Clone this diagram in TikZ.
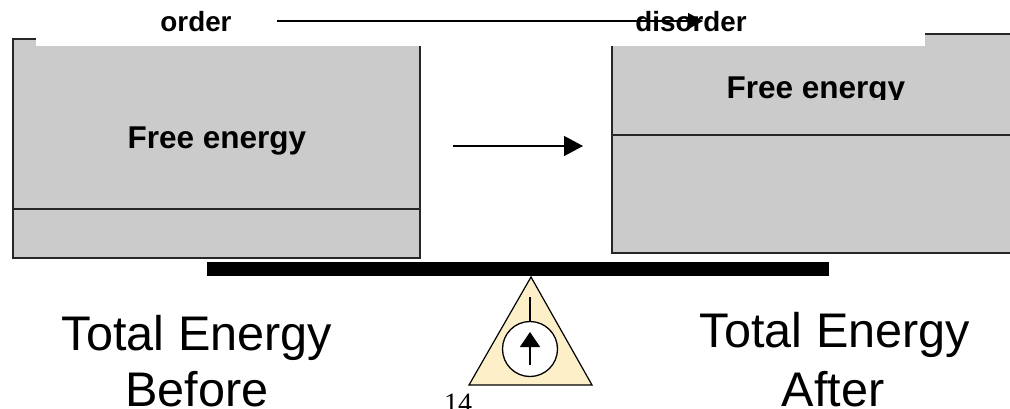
\documentclass[tikz,border=0pt]{standalone}
\usepackage{fontspec}
\setmainfont{Liberation Sans}
\newfontfamily\pagenumfont{Liberation Serif}
\usetikzlibrary{arrows.meta}
\definecolor{boxgray}{RGB}{203,203,203}
\definecolor{pivotfill}{RGB}{253,240,200}
\tikzset{
  panel/.style={fill=boxgray, draw=black!85, line width=1.8pt},
  divider/.style={draw=black!85, line width=1.6pt},
  toplbl/.style={font=\fontsize{27.8}{30}\selectfont\bfseries, inner sep=0pt, anchor=base},
  boxlbl/.style={font=\fontsize{31.5}{34}\selectfont\bfseries, inner sep=0pt, anchor=base},
  biglbl/.style={font=\fontsize{48.6}{52}\selectfont, inner sep=0pt, anchor=base},
  thinarrow/.style={line width=1.3pt, -{Triangle[length=15pt,width=16pt]}},
  midarrow/.style={line width=1.3pt, -{Triangle[length=19pt,width=20pt]}},
}
\begin{document}
\begin{tikzpicture}[x=1pt,y=-1pt]
\useasboundingbox (0,0) rectangle (1010,408);
\begin{scope}
\clip (0,0) rectangle (1010,408);
% left panel
\draw[panel] (13,39) rectangle (420,258);
\draw[divider] (13,209) -- (420,209);
% right panel
\draw[panel] (612,34) rectangle (1030,253);
\draw[divider] (612,135) -- (1030,135);
% white band over the panel tops
\fill[white] (36,-5) rectangle (925,46);
\end{scope}
% labels in panels
\node[boxlbl] (feL) at (217,148) {Free energy};
\begin{scope}
\clip (600,60) rectangle (1000,99.3);
\node[boxlbl] (feR) at (816,98) {Free energy};
\end{scope}
% top labels and arrow
\node[toplbl] (order) at (196,31) {order};
\node[toplbl] (disorder) at (691,31) {disorder};
\coordinate (topA) at (277,21);
\coordinate (topB) at (703,21);
\draw[thinarrow] (topA) -- (topB);
% middle arrow
\coordinate (midA) at (453,146);
\coordinate (midB) at (583,146);
\draw[midarrow] (midA) -- (midB);
% balance beam
\fill (207,262) rectangle (829,276);
% pivot
\draw[fill=pivotfill, line width=1.2pt, line join=miter] (531,277) -- (592,385) -- (469,385) -- cycle;
\coordinate (stemTop) at (530,297);
\node[circle, draw, fill=white, line width=1.3pt, minimum size=55pt, inner sep=0pt] (dial) at (530,349) {};
\draw[line width=1.2pt] (stemTop) -- (dial.north);
\coordinate (needleA) at (530,365);
\coordinate (needleB) at (530,332);
\draw[line width=1.2pt, -{Triangle[length=15pt,width=20pt]}] (needleA) -- (needleB);
% totals
\node[biglbl] (totL1) at (197,350) {Total Energy};
\node[biglbl] (totL2) at (197,406) {Before};
\node[biglbl] (totR1) at (835,347) {Total Energy};
\node[biglbl] (totR2) at (833,406) {After};
\node[font=\pagenumfont\fontsize{28}{30}\selectfont, inner sep=0pt, anchor=base west] (pgnum) at (444,412) {14};
\end{tikzpicture}
\end{document}
